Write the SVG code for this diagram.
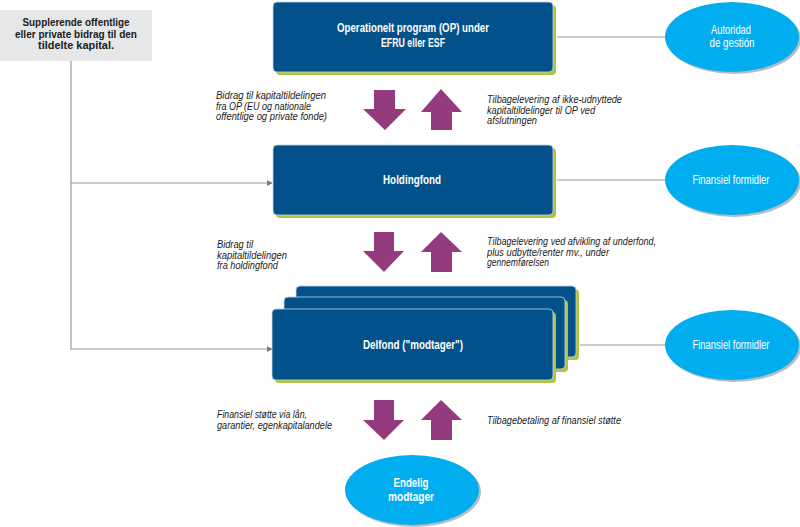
<svg xmlns="http://www.w3.org/2000/svg" width="800" height="527" viewBox="0 0 800 527">
<style>
.box{fill:#03518a;stroke:#c9d3e3;stroke-width:0.8}
.bsh{fill:#aec33e}
.ell{fill:#00aeef}
.esh{fill:#5a6a78;opacity:0.45}
.bt{font-family:"Liberation Sans",sans-serif;font-weight:bold;font-size:12px;fill:#ffffff;text-anchor:middle}
.gt{font-family:"Liberation Sans",sans-serif;font-weight:bold;font-size:11px;fill:#1a1a1a;text-anchor:middle}
.et{font-family:"Liberation Sans",sans-serif;font-size:12.5px;fill:#ffffff;text-anchor:middle}
.lbl{font-family:"Liberation Sans",sans-serif;font-style:italic;font-size:10px;fill:#1a1a1a}
.ln{stroke:#9a9a9a;stroke-width:1.2;fill:none}
.arr{fill:#943a7e}
</style>
<defs>
<marker id="ah" viewBox="0 0 8 8" refX="7" refY="4" markerWidth="6" markerHeight="6" markerUnits="userSpaceOnUse" orient="auto">
<path d="M0,0 L8,4 L0,8 Z" fill="#7a7a7a"/>
</marker>
</defs>

<g id="connectors">
<line class="ln" x1="71" y1="61" x2="71" y2="350"/>
<line class="ln" x1="71" y1="183" x2="272" y2="183" marker-end="url(#ah)"/>
<line class="ln" x1="71" y1="349" x2="272" y2="349" marker-end="url(#ah)"/>
<line class="ln" x1="557" y1="37" x2="666" y2="37"/>
<line class="ln" x1="557" y1="180" x2="666" y2="180"/>
<line class="ln" x1="580" y1="345" x2="666" y2="345"/>
<path class="arr" d="M374,90 H395 V109 H406 L385,130 L363,109 H374 Z"/>
<path class="arr" d="M441,89 L462,112 H452 V130 H431 V112 H421 Z"/>
<path class="arr" d="M374,232 H394 V251 H404 L384,272 L363,251 H374 Z"/>
<path class="arr" d="M441,232 L462,252 H452 V272 H431 V252 H421 Z"/>
<path class="arr" d="M374,400 H394 V420 H404 L384,440 L363,420 H374 Z"/>
<path class="arr" d="M441,400 L462,420 H452 V440 H431 V420 H421 Z"/>
</g>

<g id="supplerende">
<rect x="0" y="10" width="152" height="51" fill="#e6e7e9"/>
<text x="76" y="26" class="gt" textLength="107" lengthAdjust="spacingAndGlyphs">Supplerende offentlige</text>
<text x="76" y="37.5" class="gt" textLength="122" lengthAdjust="spacingAndGlyphs">eller private bidrag til den</text>
<text x="76" y="49" class="gt" textLength="76" lengthAdjust="spacingAndGlyphs">tildelte kapital.</text>
</g>

<g id="op">
<rect class="bsh" x="276" y="5" width="280" height="70" rx="4"/>
<rect class="box" x="273" y="2" width="280" height="70" rx="4"/>
<text x="413" y="32" class="bt" textLength="152" lengthAdjust="spacingAndGlyphs">Operationelt program (OP) under</text>
<text x="413" y="47" class="bt" textLength="64" lengthAdjust="spacingAndGlyphs">EFRU eller ESF</text>
</g>

<g id="holdingfond">
<rect class="bsh" x="276" y="148" width="280" height="70" rx="4"/>
<rect class="box" x="273" y="145" width="280" height="70" rx="4"/>
<text x="412" y="184" class="bt" textLength="58" lengthAdjust="spacingAndGlyphs">Holdingfond</text>
</g>

<g id="delfond">
<rect class="bsh" x="299" y="289" width="280" height="71" rx="4"/>
<rect class="box" x="296" y="286" width="280" height="71" rx="4"/>
<rect class="bsh" x="287" y="300" width="281" height="72" rx="4"/>
<rect class="box" x="284" y="297" width="281" height="72" rx="4"/>
<rect class="bsh" x="275" y="312" width="281" height="71" rx="4"/>
<rect class="box" x="272" y="309" width="281" height="71" rx="4"/>
<text x="413" y="349" class="bt" textLength="100" lengthAdjust="spacingAndGlyphs">Delfond ("modtager")</text>
</g>

<g id="autoridad">
<ellipse class="esh" cx="734" cy="39" rx="67" ry="35"/>
<ellipse class="ell" cx="732" cy="37" rx="67" ry="35"/>
<text x="731" y="34" class="et" textLength="40" lengthAdjust="spacingAndGlyphs">Autoridad</text>
<text x="732" y="47" class="et" textLength="45" lengthAdjust="spacingAndGlyphs">de gestión</text>
</g>

<g id="formidler1">
<ellipse class="esh" cx="734" cy="182" rx="67" ry="35"/>
<ellipse class="ell" cx="732" cy="180" rx="67" ry="35"/>
<text x="731" y="184" class="et" textLength="77" lengthAdjust="spacingAndGlyphs">Finansiel formidler</text>
</g>

<g id="formidler2">
<ellipse class="esh" cx="734" cy="347" rx="67" ry="35"/>
<ellipse class="ell" cx="732" cy="345" rx="67" ry="35"/>
<text x="731" y="349" class="et" textLength="77" lengthAdjust="spacingAndGlyphs">Finansiel formidler</text>
</g>

<g id="endelig">
<ellipse class="esh" cx="414" cy="492" rx="67" ry="35"/>
<ellipse class="ell" cx="412" cy="490" rx="67" ry="35"/>
<text x="411" y="487" class="bt" style="font-size:13px" textLength="35" lengthAdjust="spacingAndGlyphs">Endelig</text>
<text x="411" y="501" class="bt" style="font-size:13px" textLength="46" lengthAdjust="spacingAndGlyphs">modtager</text>
</g>

<g id="labels">
<text class="lbl" x="216" y="99" textLength="110" lengthAdjust="spacingAndGlyphs">Bidrag til kapitaltildelingen</text>
<text class="lbl" x="216" y="109.5" textLength="95" lengthAdjust="spacingAndGlyphs">fra OP (EU og nationale</text>
<text class="lbl" x="216" y="120" textLength="111" lengthAdjust="spacingAndGlyphs">offentlige og private fonde)</text>
<text class="lbl" x="487" y="103" textLength="135" lengthAdjust="spacingAndGlyphs">Tilbagelevering af ikke-udnyttede</text>
<text class="lbl" x="487" y="113.5" textLength="108" lengthAdjust="spacingAndGlyphs">kapitaltildelinger til OP ved</text>
<text class="lbl" x="487" y="124" textLength="50" lengthAdjust="spacingAndGlyphs">afslutningen</text>
<text class="lbl" x="217" y="248" textLength="36" lengthAdjust="spacingAndGlyphs">Bidrag til</text>
<text class="lbl" x="217" y="258.5" textLength="70" lengthAdjust="spacingAndGlyphs">kapitaltildelingen</text>
<text class="lbl" x="217" y="269" textLength="61" lengthAdjust="spacingAndGlyphs">fra holdingfond</text>
<text class="lbl" x="487" y="245" textLength="169" lengthAdjust="spacingAndGlyphs">Tilbagelevering ved afvikling af underfond,</text>
<text class="lbl" x="487" y="255.5" textLength="122" lengthAdjust="spacingAndGlyphs">plus udbytte/renter mv., under</text>
<text class="lbl" x="487" y="266" textLength="62" lengthAdjust="spacingAndGlyphs">gennemførelsen</text>
<text class="lbl" x="217" y="418" textLength="90" lengthAdjust="spacingAndGlyphs">Finansiel støtte via lån,</text>
<text class="lbl" x="217" y="429" textLength="115" lengthAdjust="spacingAndGlyphs">garantier, egenkapitalandele</text>
<text class="lbl" x="487" y="424" textLength="134" lengthAdjust="spacingAndGlyphs">Tilbagebetaling af finansiel støtte</text>
</g>
</svg>
